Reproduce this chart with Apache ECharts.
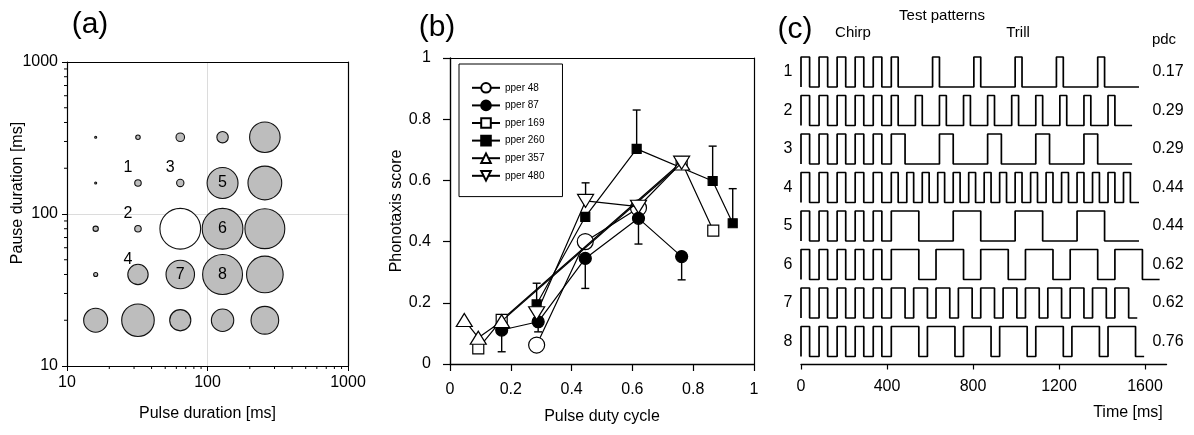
<!DOCTYPE html>
<html>
<head>
<meta charset="utf-8">
<script src="https://cdn.jsdelivr.net/npm/echarts@6/dist/echarts.min.js"></script>
<style>html,body{margin:0;padding:0;background:#fff}#chart{width:1194px;height:435px}</style>
</head>
<body>
<div id="chart"></div>
<script>
// ---------------- data ----------------
// (a) pulse / pause grid with relative phonotaxis score (bubble size)
const pulseDurations = [16, 32, 64, 128, 256];
const pauseDurations = [320, 160, 80, 40, 20];
const bubbleScores = [
  [0.05, 0.11, 0.21, 0.28, 0.75],
  [0.05, 0.16, 0.18, 0.76, 0.83],
  [0.13, 0.16, 1.00, 1.00, 0.98],
  [0.10, 0.50, 0.70, 0.98, 0.90],
  [0.59, 0.80, 0.52, 0.55, 0.68]
];
const referencePulse = 64;
const referencePause = 80;
const logMinorValues = [20, 30, 40, 50, 60, 70, 80, 90, 200, 300, 400, 500, 600, 700, 800, 900];

// test patterns (shared by (a) and (c))
const patternNames = ['1', '2', '3', '4', '5', '6', '7', '8'];
const patternPulse = [32, 32, 64, 32, 128, 128, 64, 128];
const patternPause = [160, 80, 160, 40, 160, 80, 40, 40];
const patternPdc = ['0.17', '0.29', '0.29', '0.44', '0.44', '0.62', '0.62', '0.76'];
const trillPulseCounts = [6, 10, 5, 16, 4, 6, 11, 7];
const chirpOnsets = [0, 84, 168, 252, 336];
const chirpPulseDuration = 40;
const trillOnset = 420;
const timeTicks = [0, 400, 800, 1200, 1600];

// (b) phonotaxis score vs pulse duty cycle
const pperNames = ['pper 48', 'pper 87', 'pper 169', 'pper 260', 'pper 357', 'pper 480'];
const pper48 = [[0.285, 0.062], [0.445, 0.40], [0.62, 0.51]];
const pper87 = [[0.17, 0.111], [0.29, 0.138], [0.445, 0.345], [0.62, 0.476], [0.762, 0.351]];
const pper169 = [[0.093, 0.051], [0.17, 0.144], [0.762, 0.66], [0.866, 0.436]];
const pper260 = [[0.285, 0.195], [0.445, 0.481], [0.614, 0.703], [0.864, 0.598], [0.93, 0.46]];
const pper357 = [[0.047, 0.144], [0.093, 0.086], [0.17, 0.14], [0.762, 0.655]];
const pper480 = [[0.285, 0.166], [0.446, 0.533], [0.62, 0.514], [0.762, 0.658]];
const pper87ErrLow = [0.04, 0.105, 0.247, 0.392, 0.275];
const pper260ErrHigh = [0.264, null, 0.83, 0.712, 0.573];
const pper480ErrHigh = [null, 0.592, null, null];

// ---------------- layout / styles ----------------
const FONT = '"Liberation Sans", Arial, Helvetica, sans-serif';
const BLACK = '#000';
const A = { left: 67, top: 62, width: 281, height: 304 };
const B = { left: 450, top: 58, width: 304, height: 306 };
const C = { left: 801, width: 365.5, top0: 57, step: 38.5, rowH: 30 };
const TIME_MAX = 1700;
const BUBBLE_SCALE = 40.7;
const ROW_AXIS0 = 4; // first axis index used by panel (c)

const chart = echarts.init(document.getElementById('chart'));

const grids = [
  Object.assign({ containLabel: false, outerBoundsMode: 'none' }, A),
  Object.assign({ containLabel: false, outerBoundsMode: 'none' }, B)
];
for (let i = 0; i < 8; i++) {
  grids.push({ left: C.left, width: C.width, top: C.top0 + i * C.step, height: C.rowH, containLabel: false, outerBoundsMode: 'none' });
}

const frameAxis = (gridIndex, position) => ({
  gridIndex, position, type: 'value', min: 0, max: 1, z: 5,
  axisLine: { show: true, onZero: false, lineStyle: { color: BLACK, width: 1.2 } },
  axisTick: { show: false }, axisLabel: { show: false }, splitLine: { show: false }
});

const intFmt = v => String(Math.round(v));

const xAxes = [
  { gridIndex: 0, type: 'log', logBase: 10, min: 10, max: 1000, position: 'bottom',
    axisLine: { show: true, onZero: false, lineStyle: { color: BLACK, width: 1.2 } },
    axisTick: { show: true, length: 5, lineStyle: { color: BLACK } },
    axisLabel: { fontSize: 16, color: BLACK, fontFamily: FONT, margin: 9, formatter: intFmt },
    splitLine: { show: true, showMinLine: false, showMaxLine: false, lineStyle: { color: '#dcdcdc', width: 1 } },
    name: 'Pulse duration [ms]', nameLocation: 'middle', nameGap: 40,
    nameTextStyle: { fontSize: 16, color: BLACK, fontFamily: FONT } },
  frameAxis(0, 'top'),
  { gridIndex: 1, type: 'value', min: 0, max: 1, interval: 0.2, position: 'bottom',
    axisLine: { show: true, onZero: false, lineStyle: { color: BLACK, width: 1.4 } },
    axisTick: { show: true, length: 7, lineStyle: { color: BLACK, width: 1.2 } },
    axisLabel: { fontSize: 16, color: BLACK, fontFamily: FONT, margin: 18 },
    splitLine: { show: false },
    name: 'Pulse duty cycle', nameLocation: 'middle', nameGap: 45,
    nameTextStyle: { fontSize: 16, color: BLACK, fontFamily: FONT } },
  frameAxis(1, 'top')
];
const yAxes = [
  { gridIndex: 0, type: 'log', logBase: 10, min: 10, max: 1000, position: 'left',
    axisLine: { show: true, onZero: false, lineStyle: { color: BLACK, width: 1.2 } },
    axisTick: { show: true, length: 5, lineStyle: { color: BLACK } },
    axisLabel: { fontSize: 16, color: BLACK, fontFamily: FONT, margin: 9, formatter: intFmt },
    splitLine: { show: true, showMinLine: false, showMaxLine: false, lineStyle: { color: '#dcdcdc', width: 1 } } },
  frameAxis(0, 'right'),
  { gridIndex: 1, type: 'value', min: 0, max: 1, interval: 0.2, position: 'left',
    axisLine: { show: true, onZero: false, lineStyle: { color: BLACK, width: 1.4 } },
    axisTick: { show: true, length: 7, lineStyle: { color: BLACK, width: 1.2 } },
    axisLabel: { fontSize: 16, color: BLACK, fontFamily: FONT, margin: 19 },
    splitLine: { show: false },
    name: 'Phonotaxis score', nameLocation: 'middle', nameGap: 33,
    nameTextStyle: { fontSize: 16, color: BLACK, fontFamily: FONT } },
  frameAxis(1, 'right')
];
for (let i = 0; i < 8; i++) {
  const last = i === 7;
  xAxes.push({
    gridIndex: 2 + i, type: 'value', min: 0, max: TIME_MAX, position: 'bottom', show: last, offset: last ? 8 : 0,
    axisLine: { show: last, onZero: false, lineStyle: { color: BLACK, width: 1.4 } },
    axisTick: { show: last, length: 5, customValues: timeTicks, lineStyle: { color: BLACK, width: 1.2 } },
    axisLabel: { show: last, customValues: timeTicks, fontSize: 16, color: BLACK, fontFamily: FONT, margin: 14, formatter: intFmt },
    splitLine: { show: false }
  });
  yAxes.push({ gridIndex: 2 + i, type: 'value', min: 0, max: 1, show: false, splitLine: { show: false } });
}

// ---------------- series ----------------
const series = [];

// (a) bubbles, with test-pattern numbers as labels
const bubbleData = [];
pauseDurations.forEach((pause, r) => {
  pulseDurations.forEach((pulse, c) => {
    const isRef = pulse === referencePulse && pause === referencePause;
    const item = { value: [pulse, pause, bubbleScores[r][c]], itemStyle: { color: isRef ? '#ffffff' : '#bdbdbd' } };
    const p = patternNames.findIndex((n, i) => patternPulse[i] === pulse && patternPause[i] === pause);
    if (p >= 0) {
      const outside = bubbleScores[r][c] < 0.6;
      item.name = patternNames[p];
      item.label = {
        show: true, position: 'inside', formatter: '{b}', offset: outside ? [-10, -15] : [0, 0],
        fontSize: 16, color: BLACK, fontFamily: FONT, textBorderWidth: 0
      };
    }
    bubbleData.push(item);
  });
});
series.push({
  type: 'scatter', xAxisIndex: 0, yAxisIndex: 0, data: bubbleData, z: 3,
  symbol: 'circle', symbolSize: v => Math.max(2, v[2] * BUBBLE_SCALE),
  itemStyle: { borderColor: '#111', borderWidth: 1.1, opacity: 1 },
  label: { show: false }
});
// (a) log minor ticks
const minorTick = (vertical) => ({
  type: 'custom', xAxisIndex: 0, yAxisIndex: 0, clip: false, z: 5, silent: true,
  data: logMinorValues.map(v => vertical ? [10, v] : [v, 10]),
  renderItem: (p, api) => {
    const pt = api.coord([api.value(0), api.value(1)]);
    const shape = vertical ? { x1: pt[0] - 3, y1: pt[1], x2: pt[0], y2: pt[1] }
                           : { x1: pt[0], y1: pt[1], x2: pt[0], y2: pt[1] + 3 };
    return { type: 'line', shape, style: { stroke: BLACK, lineWidth: 1 } };
  }
});
series.push(minorTick(true), minorTick(false));

// (b) error bars
function errData(points, ends) {
  const out = [];
  points.forEach((p, i) => { if (ends[i] != null) out.push([p[0], p[1], ends[i]]); });
  return out;
}
const errSeries = (data) => ({
  type: 'custom', xAxisIndex: 2, yAxisIndex: 2, z: 1, silent: true, data,
  encode: { x: 0, y: [1, 2] },
  renderItem: (p, api) => {
    const x = api.value(0);
    const a = api.coord([x, api.value(1)]);
    const b = api.coord([x, api.value(2)]);
    return { type: 'group', children: [
      { type: 'line', shape: { x1: a[0], y1: a[1], x2: b[0], y2: b[1] }, style: { stroke: BLACK, lineWidth: 1.4 } },
      { type: 'line', shape: { x1: b[0] - 4, y1: b[1], x2: b[0] + 4, y2: b[1] }, style: { stroke: BLACK, lineWidth: 1.4 } }
    ] };
  }
});
series.push(errSeries(errData(pper87, pper87ErrLow)));
series.push(errSeries(errData(pper260, pper260ErrHigh)));
series.push(errSeries(errData(pper480, pper480ErrHigh)));

// (b) lines
const lineStyleB = { color: BLACK, width: 1.2 };
const pperSeries = [
  { data: pper48, symbol: 'circle', size: 16, fill: '#fff' },
  { data: pper87, symbol: 'circle', size: 12, fill: BLACK },
  { data: pper169, symbol: 'rect', size: 11, fill: '#fff' },
  { data: pper260, symbol: 'rect', size: 9, fill: BLACK },
  { data: pper357, symbol: 'triangle', size: [16, 13], fill: '#fff' },
  { data: pper480, symbol: 'triangle', size: [16, 13], fill: '#fff', rotate: 180 }
];
pperSeries.forEach((s, i) => {
  series.push({
    type: 'line', name: pperNames[i], xAxisIndex: 2, yAxisIndex: 2, z: 2 + i * 0.1,
    data: s.data, symbol: s.symbol, symbolSize: s.size, symbolRotate: s.rotate || 0, showSymbol: true,
    color: BLACK,
    lineStyle: lineStyleB,
    itemStyle: { color: s.fill, borderColor: BLACK, borderWidth: 1.2, opacity: 1 }
  });
});

// (c) waveforms
function waveform(i) {
  const pulses = chirpOnsets.map(t => [t, chirpPulseDuration]);
  const period = patternPulse[i] + patternPause[i];
  for (let k = 0; k < trillPulseCounts[i]; k++) pulses.push([trillOnset + k * period, patternPulse[i]]);
  const pts = [];
  pulses.forEach(([t, d]) => { pts.push([t, 0], [t, 1], [t + d, 1], [t + d, 0]); });
  pts.push([trillOnset + trillPulseCounts[i] * period, 0]);
  return pts;
}
for (let i = 0; i < 8; i++) {
  series.push({
    type: 'line', xAxisIndex: ROW_AXIS0 + i, yAxisIndex: ROW_AXIS0 + i, data: waveform(i), showSymbol: false, symbol: 'none',
    lineStyle: { color: BLACK, width: 1.7 }, clip: false, silent: true
  });
}

// ---------------- texts ----------------
const txt = (text, x, y, size, extra) => Object.assign({
  type: 'text', x, y, silent: true,
  style: { text, fill: BLACK, font: size + 'px ' + FONT, fontSize: size, fontFamily: FONT,
           align: 'center', verticalAlign: 'middle', textAlign: 'center', textVerticalAlign: 'middle' }
}, extra || {});

const graphics = [
  txt('(a)', 90, 25, 30),
  txt('(b)', 437, 28, 30),
  txt('(c)', 795, 30, 30),
  txt('Pause duration [ms]', 18, 193, 16, { rotation: Math.PI / 2 }),
  txt('Test patterns', 942, 16, 15),
  txt('Chirp', 853, 33, 15),
  txt('Trill', 1018, 33, 15),
  txt('pdc', 1164, 40, 15),
  txt('Time [ms]', 1128, 413, 16)
];
patternNames.forEach((n, i) => {
  const cy = C.top0 + i * C.step + C.rowH / 2;
  graphics.push(txt(n, 788, cy, 16));
  graphics.push(txt(patternPdc[i], 1168, cy, 16));
});

chart.setOption({
  animation: false,
  backgroundColor: '#fff',
  textStyle: { fontFamily: FONT },
  grid: grids,
  xAxis: xAxes,
  yAxis: yAxes,
  legend: {
    data: pperNames, orient: 'vertical', left: 459, top: 64,
    itemWidth: 28, itemHeight: 12, itemGap: 6,
    padding: [18, 18, 15, 12], borderColor: BLACK, borderWidth: 1, backgroundColor: '#fff',
    textStyle: { fontSize: 10, color: BLACK, fontFamily: FONT },
    selectedMode: false
  },
  series,
  graphic: graphics
});
</script>
</body>
</html>
